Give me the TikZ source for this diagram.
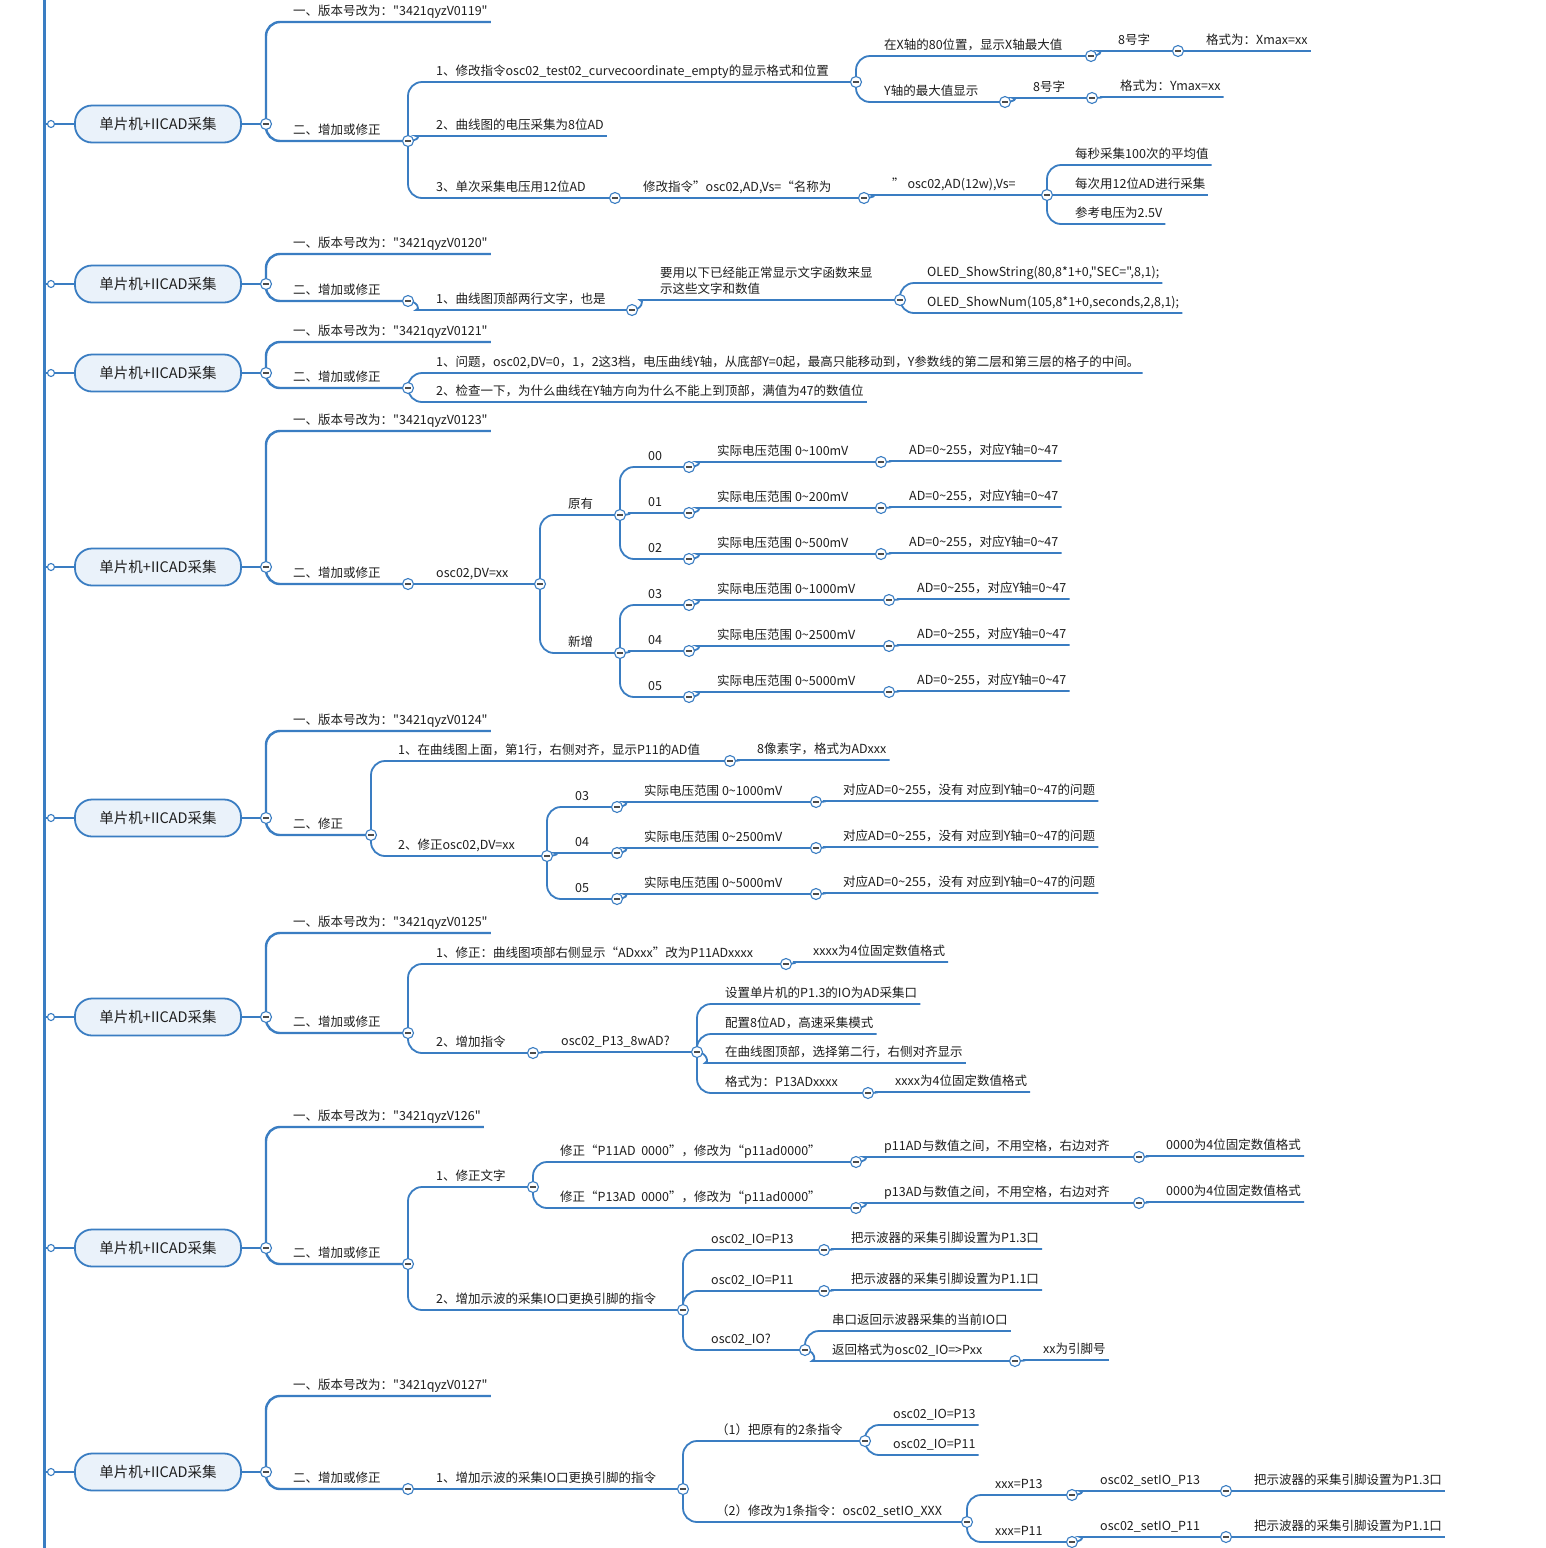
\documentclass[tikz,border=0pt]{standalone}
\usepackage{fontspec}
\setmainfont{Noto Sans CJK SC}[Ligatures=TeXOff]
\usetikzlibrary{backgrounds}
\definecolor{brl}{HTML}{3A7DC2}
\definecolor{rootfill}{HTML}{EAF2FA}
\definecolor{txt}{HTML}{1E1E1E}
\newcommand{\tld}{\textasciitilde}
\tikzset{
  br/.style={draw=brl, line width=1.8pt, rounded corners=14pt},
  brtop/.style={br, line width=2.4pt},
  lbl/.style={anchor=south west, inner xsep=0pt, inner ysep=0pt, text depth=6pt, text=txt, font=\fontsize{12.5}{16}\selectfont},
  root/.style={draw=brl, fill=rootfill, line width=1.8pt, rounded corners=17pt, minimum width=166pt, minimum height=37pt, text=txt, font=\fontsize{14.5}{17}\selectfont},
  tog/.style={circle, draw=brl, fill=white, line width=1.1pt, minimum size=11pt, inner sep=0pt,
    path picture={\draw[line width=1.1pt, txt!80] ([xshift=-2.6pt]path picture bounding box.center) -- ([xshift=2.6pt]path picture bounding box.center);}},
  dot/.style={circle, draw=brl, fill=white, line width=1.1pt, minimum size=7pt, inner sep=0pt}
}

\begin{document}
\begin{tikzpicture}[x=1pt,y=-1pt]

\begin{scope}[on background layer]
\fill[white] (0,0) rectangle (1546,1548);
\end{scope}
\useasboundingbox (0,0) rectangle (1546,1548);

\coordinate (top) at (44,0);
\coordinate (bot) at (44,1548);

\foreach \y [count=\i] in {124,284,373,567,818,1017,1248,1472} {
  \node[root] (r\i) at (158,\y) {单片机+IICAD采集};
  \node[dot] (d\i) at (51,\y) {};
  \node[tog] (t\i) at (266,\y) {};
}
\foreach \y/\v [count=\i] in {22/0119,254/0120,342/0121,431/0123,731/0124,933/0125,1127/126,1396/0127}
  \node[lbl] (v\i) at (293,\y) {一、版本号改为："3421qyzV\v"};
\foreach \y/\s/\x [count=\i] in {141/增加或修正/408,301/增加或修正/408,388/增加或修正/408,584/增加或修正/408,835/修正/371,1033/增加或修正/408,1264/增加或修正/408,1489/增加或修正/408} {
  \node[lbl] (e\i) at (293,\y) {二、\s};
  \node[tog] (u\i) at (\x,\y) {};
}
\begin{scope}[on background layer]
\draw[brtop, line width=3pt] (top) -- (bot);
\foreach \i in {1,...,8} {
  \draw[brtop] (top |- r\i.west) -- (r\i.west);
  \draw[brtop] (r\i.east) -- (t\i.center);
  \draw[brtop] (t\i.center) |- ([xshift=3pt]v\i.south east);
  \draw[brtop] (t\i.center) |- (u\i.center);
}
\end{scope}

\node[lbl] (a1) at (436,82) {1、修改指令osc02\_test02\_curvecoordinate\_empty的显示格式和位置};
\node[tog] (a1t) at (856,82) {};
\node[lbl] (a11) at (884,56) {在X轴的80位置，显示X轴最大值};
\node[tog] (a11t) at (1091,56) {};
\node[lbl] (a111) at (1118,51) {8号字};
\node[tog] (a111t) at (1178,51) {};
\node[lbl] (a1111) at (1206,51) {格式为：Xmax=xx};
\node[lbl] (a12) at (884,102) {Y轴的最大值显示};
\node[tog] (a12t) at (1005,102) {};
\node[lbl] (a121) at (1033,98) {8号字};
\node[tog] (a121t) at (1092,98) {};
\node[lbl] (a1211) at (1120,97) {格式为：Ymax=xx};
\node[lbl] (a2) at (436,136) {2、曲线图的电压采集为8位AD};
\node[lbl] (a3) at (436,198) {3、单次采集电压用12位AD};
\node[tog] (a3t) at (615,198) {};
\node[lbl] (a31) at (643,198) {修改指令”osc02,AD,Vs=“名称为};
\node[tog] (a31t) at (864,198) {};
\node[lbl] (a311) at (892,195) {” osc02,AD(12w),Vs=};
\node[tog] (a311t) at (1047,195) {};
\node[lbl] (a3111) at (1075,165) {每秒采集100次的平均值};
\node[lbl] (a3112) at (1075,195) {每次用12位AD进行采集};
\node[lbl] (a3113) at (1075,224) {参考电压为2.5V};
\begin{scope}[on background layer]
\draw[br] (u1.center) |- (a1t.center);
\draw[br] (u1.center) to[out=0,in=180] ([xshift=-6pt]a2.south west) -- ([xshift=3pt]a2.south east);
\draw[br] (u1.center) |- (a3t.center);
\draw[br] (a1t.center) |- (a11t.center);
\draw[br] (a1t.center) |- (a12t.center);
\draw[br] (a11t.center) to[out=0,in=180] ([xshift=-6pt]a111.south west) -- (a111t.center);
\draw[br] (a111t.center) to[out=0,in=180] ([xshift=-6pt]a1111.south west) -- ([xshift=3pt]a1111.south east);
\draw[br] (a12t.center) to[out=0,in=180] ([xshift=-6pt]a121.south west) -- (a121t.center);
\draw[br] (a121t.center) to[out=0,in=180] ([xshift=-6pt]a1211.south west) -- ([xshift=3pt]a1211.south east);
\draw[br] (a3t.center) to[out=0,in=180] ([xshift=-6pt]a31.south west) -- (a31t.center);
\draw[br] (a31t.center) to[out=0,in=180] ([xshift=-6pt]a311.south west) -- (a311t.center);
\draw[br] (a311t.center) |- ([xshift=3pt]a3111.south east);
\draw[br] (a311t.center) to[out=0,in=180] ([xshift=-6pt]a3112.south west) -- ([xshift=3pt]a3112.south east);
\draw[br] (a311t.center) |- ([xshift=3pt]a3113.south east);
\end{scope}

\node[lbl] (b1) at (436,310) {1、曲线图顶部两行文字，也是};
\node[tog] (b1t) at (632,310) {};
\node[lbl, align=left] (b11) at (660,300) {要用以下已经能正常显示文字函数来显\\示这些文字和数值};
\node[tog] (b11t) at (900,300) {};
\node[lbl] (b111) at (927,283) {OLED\_ShowString(80,8*1+0,"SEC=",8,1);};
\node[lbl] (b112) at (927,313) {OLED\_ShowNum(105,8*1+0,seconds,2,8,1);};
\begin{scope}[on background layer]
\draw[br] (u2.center) to[out=0,in=180] ([xshift=-6pt]b1.south west) -- (b1t.center);
\draw[br] (b1t.center) to[out=0,in=180] ([xshift=-6pt]b11.south west) -- (b11t.center);
\foreach \n in {b111,b112}
  \draw[br] (b11t.center) |- ([xshift=3pt]\n.south east);
\end{scope}

\node[lbl] (c1) at (436,373) {1、问题，osc02,DV=0，1，2这3档，电压曲线Y轴，从底部Y=0起，最高只能移动到，Y参数线的第二层和第三层的格子的中间。};
\node[lbl] (c2) at (436,402) {2、检查一下，为什么曲线在Y轴方向为什么不能上到顶部，满值为47的数值位};
\begin{scope}[on background layer]
\foreach \n in {c1,c2}
  \draw[br] (u3.center) |- ([xshift=3pt]\n.south east);
\end{scope}

\node[lbl] (d1) at (436,584) {osc02,DV=xx};
\node[tog] (d1t) at (540,584) {};
\node[lbl] (d11) at (568,515) {原有};
\node[tog] (d11t) at (620,515) {};
\node[lbl] (d12) at (568,653) {新增};
\node[tog] (d12t) at (620,653) {};
\foreach \k/\y/\mv/\xc in {0/467/100/881,1/513/200/881,2/559/500/881,3/605/1000/889,4/651/2500/889,5/697/5000/889} {
  \node[lbl] (k\k) at (648,\y) {0\k};
  \node[tog] (kt\k) at (689,\y) {};
  \node[lbl] (m\k) at (717,\y-5) {实际电压范围 0\tld\mv mV};
  \node[tog] (mt\k) at (\xc,\y-5) {};
  \node[lbl] (n\k) at (\xc+28,\y-6) {AD=0\tld255，对应Y轴=0\tld47};
  \begin{scope}[on background layer]
  \draw[br] (kt\k.center) to[out=0,in=180] ([xshift=-6pt]m\k.south west) -- (mt\k.center);
  \draw[br] (mt\k.center) to[out=0,in=180] ([xshift=-6pt]n\k.south west) -- ([xshift=3pt]n\k.south east);
  \end{scope}
}
\begin{scope}[on background layer]
\draw[br] (u4.center) -- (d1t.center);
\draw[br] (d1t.center) |- (d11t.center);
\draw[br] (d1t.center) |- (d12t.center);
\draw[br] (d11t.center) |- (kt0.center);
\draw[br] (d11t.center) to[out=0,in=180] ([xshift=-6pt]k1.south west) -- (kt1.center);
\draw[br] (d11t.center) |- (kt2.center);
\draw[br] (d12t.center) |- (kt3.center);
\draw[br] (d12t.center) to[out=0,in=180] ([xshift=-6pt]k4.south west) -- (kt4.center);
\draw[br] (d12t.center) |- (kt5.center);
\end{scope}

\node[lbl] (p1) at (398,761) {1、在曲线图上面，第1行，右侧对齐，显示P11的AD值};
\node[tog] (p1t) at (730,761) {};
\node[lbl] (p11) at (757,760) {8像素字，格式为ADxxx};
\node[lbl] (p2) at (398,856) {2、修正osc02,DV=xx};
\node[tog] (p2t) at (547,856) {};
\foreach \k/\y/\mv in {3/807/1000,4/853/2500,5/899/5000} {
  \node[lbl] (pk\k) at (575,\y) {0\k};
  \node[tog] (pkt\k) at (617,\y) {};
  \node[lbl] (pm\k) at (644,\y-5) {实际电压范围 0\tld\mv mV};
  \node[tog] (pmt\k) at (816,\y-5) {};
  \node[lbl] (pn\k) at (843,\y-6) {对应AD=0\tld255，没有 对应到Y轴=0\tld47的问题};
  \begin{scope}[on background layer]
  \draw[br] (pkt\k.center) to[out=0,in=180] ([xshift=-6pt]pm\k.south west) -- (pmt\k.center);
  \draw[br] (pmt\k.center) to[out=0,in=180] ([xshift=-6pt]pn\k.south west) -- ([xshift=3pt]pn\k.south east);
  \end{scope}
}
\begin{scope}[on background layer]
\draw[br] (u5.center) |- (p1t.center);
\draw[br] (p1t.center) to[out=0,in=180] ([xshift=-6pt]p11.south west) -- ([xshift=3pt]p11.south east);
\draw[br] (u5.center) |- (p2t.center);
\draw[br] (p2t.center) |- (pkt3.center);
\draw[br] (p2t.center) to[out=0,in=180] ([xshift=-6pt]pk4.south west) -- (pkt4.center);
\draw[br] (p2t.center) |- (pkt5.center);
\end{scope}

\node[lbl] (f1) at (436,964) {1、修正：曲线图项部右侧显示“ADxxx”改为P11ADxxxx};
\node[tog] (f1t) at (786,964) {};
\node[lbl] (f11) at (813,962) {xxxx为4位固定数值格式};
\node[lbl] (f2) at (436,1053) {2、增加指令};
\node[tog] (f2t) at (533,1053) {};
\node[lbl] (f21) at (561,1052) {osc02\_P13\_8wAD?};
\node[tog] (f21t) at (697,1052) {};
\node[lbl] (f211) at (725,1004) {设置单片机的P1.3的IO为AD采集口};
\node[lbl] (f212) at (725,1034) {配置8位AD，高速采集模式};
\node[lbl] (f213) at (725,1063) {在曲线图顶部，选择第二行，右侧对齐显示};
\node[lbl] (f214) at (725,1093) {格式为：P13ADxxxx};
\node[tog] (f214t) at (868,1093) {};
\node[lbl] (f2141) at (895,1092) {xxxx为4位固定数值格式};
\begin{scope}[on background layer]
\draw[br] (u6.center) |- (f1t.center);
\draw[br] (f1t.center) to[out=0,in=180] ([xshift=-6pt]f11.south west) -- ([xshift=3pt]f11.south east);
\draw[br] (u6.center) |- (f2t.center);
\draw[br] (f2t.center) to[out=0,in=180] ([xshift=-6pt]f21.south west) -- (f21t.center);
\foreach \n in {f211,f212}
  \draw[br] (f21t.center) |- ([xshift=3pt]\n.south east);
\draw[br] (f21t.center) to[out=0,in=180] ([xshift=-6pt]f213.south west) -- ([xshift=3pt]f213.south east);
\draw[br] (f21t.center) |- (f214t.center);
\draw[br] (f214t.center) to[out=0,in=180] ([xshift=-6pt]f2141.south west) -- ([xshift=3pt]f2141.south east);
\end{scope}

\node[lbl] (g1) at (436,1187) {1、修正文字};
\node[tog] (g1t) at (533,1187) {};
\node[lbl] (g11) at (560,1162) {修正“P11AD\ \ 0000”，修改为“p11ad0000”};
\node[tog] (g11t) at (856,1162) {};
\node[lbl] (g111) at (884,1157) {p11AD与数值之间，不用空格，右边对齐};
\node[tog] (g111t) at (1139,1157) {};
\node[lbl] (g1111) at (1166,1156) {0000为4位固定数值格式};
\node[lbl] (g12) at (560,1208) {修正“P13AD\ \ 0000”，修改为“p11ad0000”};
\node[tog] (g12t) at (856,1208) {};
\node[lbl] (g121) at (884,1203) {p13AD与数值之间，不用空格，右边对齐};
\node[tog] (g121t) at (1139,1203) {};
\node[lbl] (g1211) at (1166,1202) {0000为4位固定数值格式};
\node[lbl] (g2) at (436,1310) {2、增加示波的采集IO口更换引脚的指令};
\node[tog] (g2t) at (683,1310) {};
\node[lbl] (g21) at (711,1250) {osc02\_IO=P13};
\node[tog] (g21t) at (824,1250) {};
\node[lbl] (g211) at (851,1249) {把示波器的采集引脚设置为P1.3口};
\node[lbl] (g22) at (711,1291) {osc02\_IO=P11};
\node[tog] (g22t) at (824,1291) {};
\node[lbl] (g221) at (851,1290) {把示波器的采集引脚设置为P1.1口};
\node[lbl] (g23) at (711,1350) {osc02\_IO?};
\node[tog] (g23t) at (805,1350) {};
\node[lbl] (g231) at (832,1331) {串口返回示波器采集的当前IO口};
\node[lbl] (g232) at (832,1361) {返回格式为osc02\_IO=>Pxx};
\node[tog] (g232t) at (1015,1361) {};
\node[lbl] (g2321) at (1043,1360) {xx为引脚号};
\begin{scope}[on background layer]
\draw[br] (u7.center) |- (g1t.center);
\draw[br] (g1t.center) |- (g11t.center);
\draw[br] (g11t.center) to[out=0,in=180] ([xshift=-6pt]g111.south west) -- (g111t.center);
\draw[br] (g111t.center) to[out=0,in=180] ([xshift=-6pt]g1111.south west) -- ([xshift=3pt]g1111.south east);
\draw[br] (g1t.center) |- (g12t.center);
\draw[br] (g12t.center) to[out=0,in=180] ([xshift=-6pt]g121.south west) -- (g121t.center);
\draw[br] (g121t.center) to[out=0,in=180] ([xshift=-6pt]g1211.south west) -- ([xshift=3pt]g1211.south east);
\draw[br] (u7.center) |- (g2t.center);
\draw[br] (g2t.center) |- (g21t.center);
\draw[br] (g21t.center) to[out=0,in=180] ([xshift=-6pt]g211.south west) -- ([xshift=3pt]g211.south east);
\draw[br] (g2t.center) |- (g22t.center);
\draw[br] (g22t.center) to[out=0,in=180] ([xshift=-6pt]g221.south west) -- ([xshift=3pt]g221.south east);
\draw[br] (g2t.center) |- (g23t.center);
\draw[br] (g23t.center) |- ([xshift=3pt]g231.south east);
\draw[br] (g23t.center) to[out=0,in=180] ([xshift=-6pt]g232.south west) -- (g232t.center);
\draw[br] (g232t.center) to[out=0,in=180] ([xshift=-6pt]g2321.south west) -- ([xshift=3pt]g2321.south east);
\end{scope}

\node[lbl] (h1) at (436,1489) {1、增加示波的采集IO口更换引脚的指令};
\node[tog] (h1t) at (683,1489) {};
\node[lbl] (h11) at (716,1441) {（1）把原有的2条指令};
\node[tog] (h11t) at (865,1441) {};
\node[lbl] (h111) at (893,1425) {osc02\_IO=P13};
\node[lbl] (h112) at (893,1455) {osc02\_IO=P11};
\node[lbl] (h12) at (716,1522) {（2）修改为1条指令：osc02\_setIO\_XXX};
\node[tog] (h12t) at (967,1522) {};
\node[lbl] (h121) at (995,1495) {xxx=P13};
\node[tog] (h121t) at (1072,1495) {};
\node[lbl] (h1211) at (1100,1491) {osc02\_setIO\_P13};
\node[tog] (h1211t) at (1226,1491) {};
\node[lbl] (h12111) at (1254,1491) {把示波器的采集引脚设置为P1.3口};
\node[lbl] (h122) at (995,1542) {xxx=P11};
\node[tog] (h122t) at (1072,1542) {};
\node[lbl] (h1221) at (1100,1537) {osc02\_setIO\_P11};
\node[tog] (h1221t) at (1226,1537) {};
\node[lbl] (h12211) at (1254,1537) {把示波器的采集引脚设置为P1.1口};
\begin{scope}[on background layer]
\draw[br] (u8.center) -- (h1t.center);
\draw[br] (h1t.center) |- (h11t.center);
\foreach \n in {h111,h112}
  \draw[br] (h11t.center) |- ([xshift=3pt]\n.south east);
\draw[br] (h1t.center) |- (h12t.center);
\draw[br] (h12t.center) |- (h121t.center);
\draw[br] (h121t.center) to[out=0,in=180] ([xshift=-6pt]h1211.south west) -- (h1211t.center);
\draw[br] (h1211t.center) to[out=0,in=180] ([xshift=-6pt]h12111.south west) -- ([xshift=3pt]h12111.south east);
\draw[br] (h12t.center) |- (h122t.center);
\draw[br] (h122t.center) to[out=0,in=180] ([xshift=-6pt]h1221.south west) -- (h1221t.center);
\draw[br] (h1221t.center) to[out=0,in=180] ([xshift=-6pt]h12211.south west) -- ([xshift=3pt]h12211.south east);
\end{scope}

\end{tikzpicture}
\end{document}
